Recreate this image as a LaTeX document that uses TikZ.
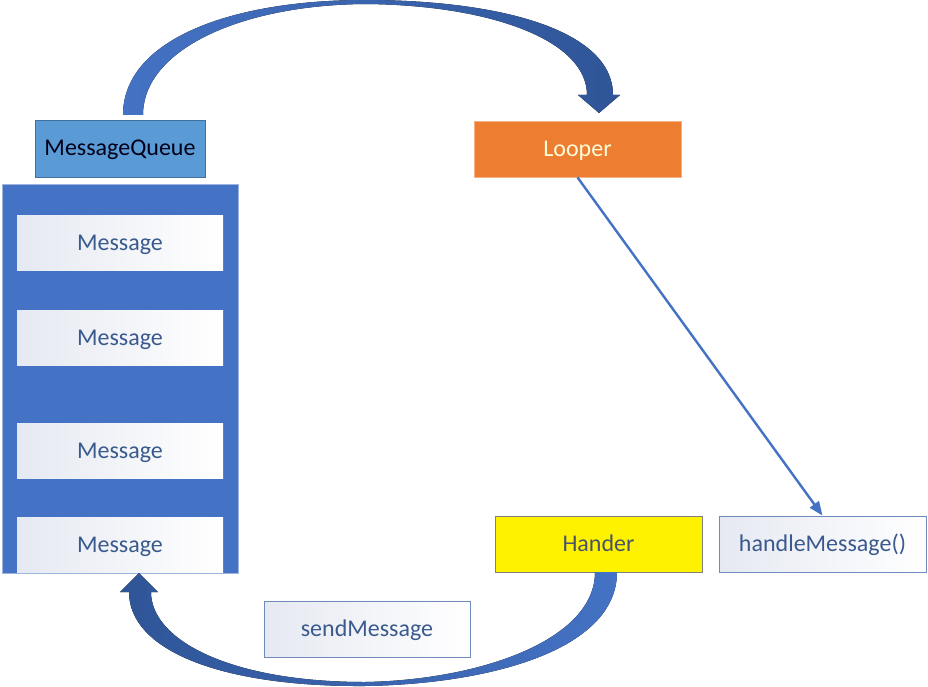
\documentclass[tikz,border=0pt]{standalone}
\usepackage{fontspec}
\setmainfont{Carlito}
\usetikzlibrary{arrows.meta}
\definecolor{qblue}{HTML}{4472C4}
\definecolor{qdark}{HTML}{2F5597}
\definecolor{mqfill}{HTML}{5B9BD5}
\definecolor{mqline}{HTML}{41719C}
\definecolor{orng}{HTML}{ED7D31}
\definecolor{orngline}{HTML}{F4B183}
\definecolor{txtblue}{HTML}{3A5A8E}
\definecolor{grad}{HTML}{E6E9F2}
\definecolor{boxline}{HTML}{6E8BBB}
\definecolor{handtxt}{HTML}{4A5468}
\definecolor{cont}{HTML}{9DB4DF}
\tikzset{
  base/.style={rectangle, inner sep=0pt, text height=19pt, text depth=4pt, font=\fontsize{24}{28}\selectfont},
  msgbox/.style={base, minimum width=206pt, minimum height=55pt, left color=grad, right color=white, text=txtblue},
  wbox/.style={base, minimum width=207pt, minimum height=56pt, left color=grad, right color=white, draw=boxline, line width=0.8pt, text=txtblue},
  band/.style={shading=axis, left color=qblue, right color=qdark, draw=none},
}
\begin{document}
\begin{tikzpicture}[x=1pt,y=-1pt]
\useasboundingbox (0,0) rectangle (928,687);
% container
\node[base, minimum width=236pt, minimum height=389pt, fill=qblue, draw=cont, line width=0.8pt] (cont) at (120,378.5) {};
\node[msgbox] (m1) at (120,242.5) {Message};
\node[msgbox] (m2) at (120,337.5) {Message};
\node[msgbox] (m3) at (120,450.5) {Message};
\node[msgbox] (m4) at (120,544.5) {Message};
% header
\node[base, minimum width=170pt, minimum height=57pt, fill=mqfill, draw=mqline, line width=0.8pt, text=black!90!blue] (mq) at (120,148.5) {MessageQueue};
\node[base, minimum width=207pt, minimum height=56pt, fill=orng, draw=orngline, line width=0.8pt, text=yellow!15] (looper) at (577.5,149) {Looper};
\node[base, minimum width=207pt, minimum height=56pt, fill=yellow, draw=gray, line width=0.8pt, text=handtxt] (hander) at (598.5,544) {Hander};
\node[wbox] (handle) at (822.5,544) {handleMessage()};
\node[wbox, minimum width=206pt] (send) at (367,629) {sendMessage};
% looper -> handleMessage
\draw[qblue, line width=2.4pt, -{Triangle[length=14pt,width=11pt]}] (looper.south) -- (handle.north);
% top curved arrow (MessageQueue -> Looper)
\fill[band] (123,115) .. controls (123,40) and (230,0) .. (365,0)
  .. controls (500,0) and (613,30) .. (613,95)
  -- (620,95) -- (599,113) -- (578,95) -- (587,95)
  .. controls (587,40) and (490,5) .. (365,4)
  .. controls (240,5) and (143,50) .. (143,115) -- cycle;
% bottom curved arrow (Hander -> Message)
\fill[band, left color=qdark, right color=qblue] (617,572) .. controls (617,650) and (490,684) .. (365,686)
  .. controls (220,687) and (129,650) .. (129,592)
  -- (120,592) -- (139,573) -- (158,592) -- (151,592)
  .. controls (151,640) and (230,682) .. (365,682)
  .. controls (480,680) and (595,640) .. (595,572) -- cycle;
\end{tikzpicture}
\end{document}
